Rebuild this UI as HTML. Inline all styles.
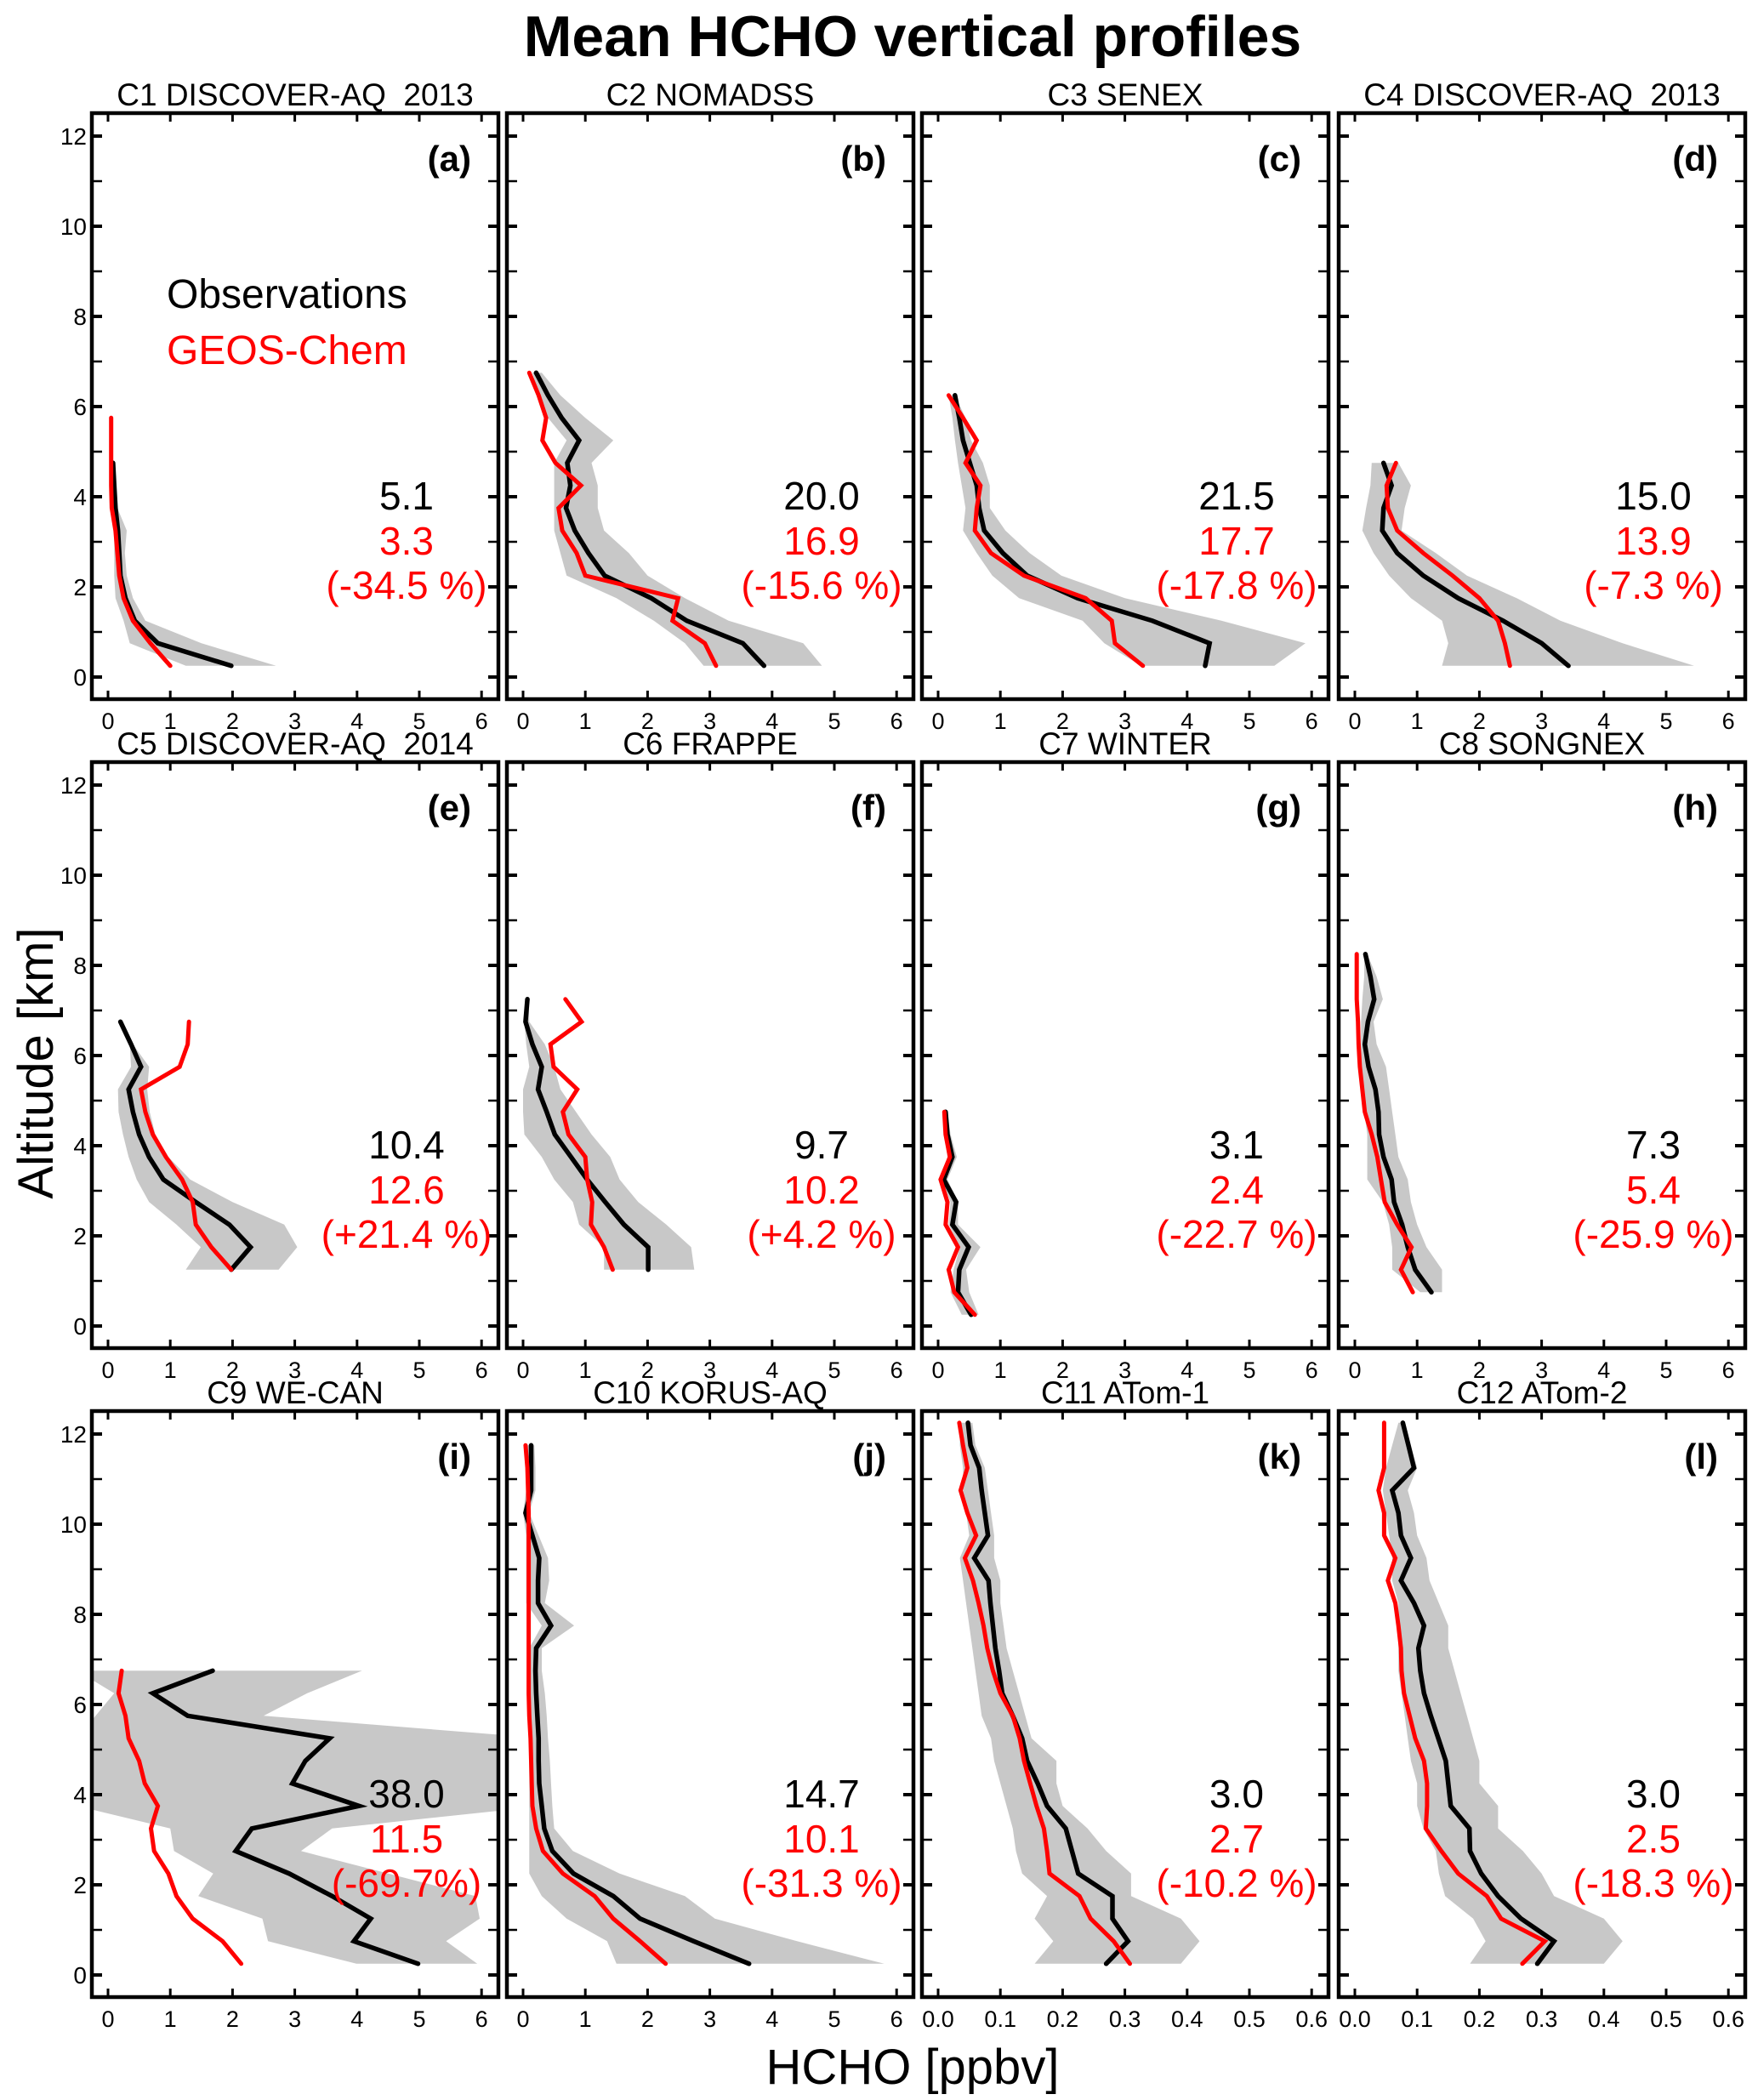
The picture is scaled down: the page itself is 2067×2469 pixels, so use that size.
<!DOCTYPE html>
<html><head><meta charset="utf-8"><title>Mean HCHO vertical profiles</title>
<style>
html,body{margin:0;padding:0;background:#fff;}
svg{display:block;}
text{font-family:"Liberation Sans Narrow","Liberation Sans",sans-serif;}
</style></head>
<body>
<svg id="fig" xmlns="http://www.w3.org/2000/svg" width="2067" height="2469" viewBox="0 0 2067 2469">
<text x="1073" y="66" text-anchor="middle" font-size="68" font-weight="bold" style="font-family:'Liberation Sans',sans-serif">Mean HCHO vertical profiles</text>
<text transform="translate(62,1250) rotate(-90)" text-anchor="middle" font-size="58">Altitude [km]</text>
<text x="1073" y="2450" text-anchor="middle" font-size="58">HCHO [ppbv]</text>
<g id="panels"></g>
</svg>
<script>
// ---- data ----
const titles = ["C1 DISCOVER-AQ  2013","C2 NOMADSS","C3 SENEX","C4 DISCOVER-AQ  2013","C5 DISCOVER-AQ  2014","C6 FRAPPE","C7 WINTER","C8 SONGNEX","C9 WE-CAN","C10 KORUS-AQ","C11 ATom-1","C12 ATom-2"];
const letters = ["(a)","(b)","(c)","(d)","(e)","(f)","(g)","(h)","(i)","(j)","(k)","(l)"];
const obsTotals = ["5.1","20.0","21.5","15.0","10.4","9.7","3.1","7.3","38.0","14.7","3.0","3.0"];
const modTotals = ["3.3","16.9","17.7","13.9","12.6","10.2","2.4","5.4","11.5","10.1","2.7","2.5"];
const biasText = ["(-34.5 %)","(-15.6 %)","(-17.8 %)","(-7.3 %)","(+21.4 %)","(+4.2 %)","(-22.7 %)","(-25.9 %)","(-69.7%)","(-31.3 %)","(-10.2 %)","(-18.3 %)"];
const yTicks = [0,1,2,3,4,5,6,7,8,9,10,11,12];
const yTickLabels = ["0","2","4","6","8","10","12"];
const xTicks = [0,1,2,3,4,5,6];
const xTickLabels = ["0","1","2","3","4","5","6"];
const xTickLabelsAtom = ["0.0","0.1","0.2","0.3","0.4","0.5","0.6"];

const altA_obs = [0.25,0.75,1.25,1.75,2.25,2.75,3.25,3.75,4.25,4.75];
const obsA = [1.98,0.8,0.43,0.28,0.2,0.18,0.16,0.12,0.1,0.08];
const loA = [1.25,0.35,0.25,0.12,0.1,0.1,0.1,0.08,0.06,0.05];
const hiA = [2.7,1.5,0.6,0.4,0.3,0.27,0.3,0.15,0.12,0.1];
const altA_mod = [0.25,0.75,1.25,1.75,2.25,2.75,3.25,3.75,4.25,4.75,5.25,5.75];
const modA = [1.0,0.68,0.4,0.25,0.18,0.15,0.12,0.06,0.05,0.05,0.05,0.05];

const altB = [0.25,0.75,1.25,1.75,2.25,2.75,3.25,3.75,4.25,4.75,5.25,5.75,6.25,6.75];
const obsB = [3.87,3.53,2.63,2.06,1.31,1.05,0.83,0.69,0.76,0.71,0.9,0.62,0.4,0.21];
const modB = [3.1,2.92,2.4,2.49,1.0,0.86,0.63,0.57,0.93,0.52,0.31,0.37,0.25,0.1];
const hiB = [4.8,4.5,3.3,2.6,2.0,1.7,1.3,1.2,1.2,1.1,1.45,1.0,0.6,0.3];
const loB = [2.9,2.6,2.1,1.5,0.7,0.6,0.5,0.5,0.5,0.5,0.7,0.4,0.25,0.15];

const altC = [0.25,0.75,1.25,1.75,2.25,2.75,3.25,3.75,4.25,4.75,5.25,5.75,6.25];
const obsC = [4.29,4.36,3.44,2.24,1.43,1.04,0.74,0.66,0.62,0.51,0.40,0.34,0.27];
const modC = [3.29,2.84,2.79,2.37,1.38,0.85,0.59,0.62,0.68,0.44,0.62,0.40,0.17];
const hiC = [5.4,5.9,4.55,3.0,1.98,1.47,1.08,0.83,0.83,0.72,0.53,0.44,0.27];
const loC = [3.26,2.67,2.32,1.3,0.87,0.62,0.4,0.44,0.38,0.32,0.27,0.23,0.17];

const altD = [0.25,0.75,1.25,1.75,2.25,2.75,3.25,3.75,4.25,4.75];
const obsD = [3.43,3.0,2.38,1.66,1.1,0.68,0.44,0.46,0.59,0.46];
const modD = [2.49,2.41,2.3,2.0,1.57,1.1,0.68,0.53,0.51,0.66];
const hiD = [5.45,4.3,3.3,2.6,1.8,1.3,0.75,0.8,0.9,0.7];
const loD = [1.4,1.5,1.4,0.9,0.55,0.3,0.12,0.18,0.25,0.27];

const altE = [1.25,1.75,2.25,2.75,3.25,3.75,4.25,4.75,5.25,5.75,6.25,6.75];
const obsE = [1.98,2.29,1.95,1.41,0.89,0.66,0.5,0.4,0.33,0.53,0.37,0.2];
const modE = [1.98,1.66,1.41,1.36,1.19,0.93,0.72,0.6,0.53,1.15,1.28,1.3];
const hiE = [2.74,3.04,2.83,2.0,1.32,0.97,0.76,0.67,0.63,0.66,0.4,0.22];
const loE = [1.25,1.49,1.1,0.66,0.46,0.33,0.24,0.17,0.16,0.37,0.35,0.18];

const altF = [1.25,1.75,2.25,2.75,3.25,3.75,4.25,4.75,5.25,5.75,6.25,6.75,7.25];
const obsF = [2.01,2.01,1.62,1.32,1.03,0.77,0.51,0.38,0.24,0.3,0.15,0.04,0.07];
const modF = [1.44,1.3,1.09,1.11,1.03,1.0,0.73,0.64,0.87,0.49,0.44,0.94,0.68];
const hiF = [2.75,2.7,2.3,1.85,1.55,1.4,1.1,0.85,0.6,0.5,0.35,0.1,0.09];
const loF = [1.3,1.3,0.9,0.8,0.5,0.3,0.02,0.0,0.0,0.1,0.05,0.02,0.05];

const altG = [0.25,0.75,1.25,1.75,2.25,2.75,3.25,3.75,4.25,4.75];
const obsG = [0.53,0.32,0.34,0.49,0.23,0.29,0.09,0.23,0.15,0.12];
const modG = [0.59,0.26,0.17,0.32,0.12,0.15,0.04,0.19,0.12,0.1];
const hiG = [0.65,0.5,0.45,0.68,0.32,0.32,0.15,0.3,0.2,0.15];
const loG = [0.38,0.2,0.25,0.35,0.17,0.2,0.05,0.15,0.1,0.1];

const altH = [0.75,1.25,1.75,2.25,2.75,3.25,3.75,4.25,4.75,5.25,5.75,6.25,6.75,7.25,7.75,8.25];
const obsH = [1.23,0.97,0.85,0.76,0.63,0.59,0.46,0.39,0.38,0.33,0.22,0.16,0.21,0.31,0.25,0.17];
const modH = [0.93,0.74,0.91,0.68,0.48,0.42,0.36,0.27,0.16,0.12,0.08,0.06,0.05,0.03,0.03,0.03];
const hiH = [1.4,1.4,1.15,1.0,0.9,0.85,0.7,0.65,0.6,0.55,0.5,0.35,0.3,0.45,0.35,0.2];
const loH = [1.05,0.6,0.6,0.55,0.45,0.2,0.2,0.2,0.15,0.15,0.1,0.1,0.1,0.12,0.15,0.15];

const altI = [0.25,0.75,1.25,1.75,2.25,2.75,3.25,3.75,4.25,4.75,5.25,5.75,6.25,6.75];
const obsI = [4.98,3.95,4.22,3.6,2.91,2.05,2.31,4.03,2.96,3.17,3.56,1.28,0.72,1.68];
const modI = [2.14,1.84,1.36,1.1,0.97,0.74,0.69,0.8,0.59,0.5,0.33,0.28,0.17,0.22];
const hiI = [5.93,5.43,5.97,5.9,4.5,3.1,3.6,7,7,7,7,2.5,3.2,4.08];
const loI = [3.99,2.57,2.48,1.45,1.69,1.06,1.0,-0.5,-0.5,-0.5,-0.5,-0.2,0.1,-0.5];

const altJ = [0.25,0.75,1.25,1.75,2.25,2.75,3.25,3.75,4.25,4.75,5.25,5.75,6.25,6.75,7.25,7.75,8.25,8.75,9.25,9.75,10.25,10.75,11.25,11.75];
const obsJ = [3.63,2.74,1.88,1.45,0.81,0.47,0.34,0.3,0.26,0.25,0.25,0.23,0.21,0.2,0.21,0.45,0.24,0.24,0.26,0.15,0.04,0.13,0.13,0.13];
const modJ = [2.29,1.88,1.45,1.15,0.64,0.32,0.21,0.15,0.14,0.13,0.12,0.1,0.09,0.09,0.09,0.09,0.09,0.09,0.09,0.09,0.09,0.08,0.07,0.04];
const hiJ = [5.8,4.4,3.08,2.6,1.55,0.8,0.5,0.47,0.45,0.43,0.4,0.38,0.35,0.3,0.3,0.82,0.35,0.42,0.4,0.25,0.1,0.2,0.2,0.18];
const loJ = [1.5,1.35,0.7,0.3,0.1,0.1,0.1,0.1,0.1,0.1,0.1,0.1,0.1,0.1,0.1,0.3,0.05,0.05,0.05,0.05,0.0,0.05,0.05,0.05];

const altK = [0.25,0.75,1.25,1.75,2.25,2.75,3.25,3.75,4.25,4.75,5.25,5.75,6.25,6.75,7.25,7.75,8.25,8.75,9.25,9.75,10.25,10.75,11.25,11.75,12.25];
const obsK = [0.27,0.305,0.28,0.28,0.225,0.215,0.205,0.175,0.16,0.143,0.135,0.12,0.103,0.098,0.092,0.088,0.084,0.081,0.058,0.08,0.075,0.07,0.066,0.052,0.048];
const modK = [0.308,0.282,0.245,0.227,0.179,0.175,0.17,0.158,0.148,0.138,0.131,0.12,0.1,0.088,0.079,0.073,0.065,0.056,0.043,0.061,0.047,0.036,0.047,0.04,0.034];
const hiK = [0.39,0.42,0.39,0.31,0.31,0.27,0.24,0.2,0.19,0.19,0.15,0.14,0.13,0.12,0.11,0.105,0.1,0.1,0.09,0.09,0.085,0.08,0.075,0.06,0.055];
const loK = [0.155,0.185,0.155,0.175,0.135,0.125,0.12,0.11,0.1,0.09,0.085,0.07,0.065,0.06,0.055,0.05,0.045,0.04,0.035,0.05,0.045,0.04,0.04,0.035,0.035];

const altL = [0.25,0.75,1.25,1.75,2.25,2.75,3.25,3.75,4.25,4.75,5.25,5.75,6.25,6.75,7.25,7.75,8.25,8.75,9.25,9.75,10.25,10.75,11.25,11.75,12.25];
const obsL = [0.293,0.32,0.267,0.23,0.203,0.185,0.184,0.154,0.15,0.146,0.134,0.122,0.111,0.105,0.102,0.111,0.095,0.074,0.09,0.074,0.07,0.06,0.095,0.086,0.077];
const modL = [0.269,0.305,0.235,0.212,0.166,0.139,0.114,0.116,0.116,0.111,0.097,0.088,0.079,0.075,0.074,0.07,0.065,0.053,0.065,0.047,0.047,0.038,0.047,0.047,0.047];
const hiL = [0.4,0.43,0.4,0.32,0.3,0.27,0.23,0.23,0.2,0.2,0.19,0.18,0.17,0.16,0.15,0.15,0.135,0.12,0.115,0.1,0.095,0.085,0.1,0.09,0.08];
const loL = [0.185,0.21,0.19,0.145,0.135,0.13,0.11,0.1,0.1,0.09,0.085,0.08,0.075,0.07,0.07,0.07,0.07,0.06,0.06,0.055,0.05,0.045,0.05,0.06,0.07];

const panelData = [
 {alt:altA_obs, obs:obsA, lo:loA, hi:hiA, malt:altA_mod, mod:modA, xmax:6},
 {alt:altB, obs:obsB, lo:loB, hi:hiB, malt:altB, mod:modB, xmax:6},
 {alt:altC, obs:obsC, lo:loC, hi:hiC, malt:altC, mod:modC, xmax:6},
 {alt:altD, obs:obsD, lo:loD, hi:hiD, malt:altD, mod:modD, xmax:6},
 {alt:altE, obs:obsE, lo:loE, hi:hiE, malt:altE, mod:modE, xmax:6},
 {alt:altF, obs:obsF, lo:loF, hi:hiF, malt:altF, mod:modF, xmax:6},
 {alt:altG, obs:obsG, lo:loG, hi:hiG, malt:altG, mod:modG, xmax:6},
 {alt:altH, obs:obsH, lo:loH, hi:hiH, malt:altH, mod:modH, xmax:6},
 {alt:altI, obs:obsI, lo:loI, hi:hiI, malt:altI, mod:modI, xmax:6},
 {alt:altJ, obs:obsJ, lo:loJ, hi:hiJ, malt:altJ, mod:modJ, xmax:6},
 {alt:altK, obs:obsK, lo:loK, hi:hiK, malt:altK, mod:modK, xmax:0.6},
 {alt:altL, obs:obsL, lo:loL, hi:hiL, malt:altL, mod:modL, xmax:0.6}
];

// ---- layout ----
const colLeft = [108,596,1084,1574];
const rowTop = [133,896,1659];
const PW = 478, PH = 689;
const X0OFF = 19, XUNIT = 73.2;
const Y0OFF = 663, YUNIT = 53.0;
const NS = "http://www.w3.org/2000/svg";
const root = document.getElementById('panels');

function mk(tag, attrs, parent){
  const e = document.createElementNS(NS, tag);
  for (const k in attrs) e.setAttribute(k, attrs[k]);
  parent.appendChild(e);
  return e;
}

panelData.forEach((p, i) => {
  const L = colLeft[i % 4], T = rowTop[Math.floor(i / 4)];
  const xs = v => L + X0OFF + v * (6 / p.xmax) * XUNIT;
  const ys = a => T + Y0OFF - a * YUNIT;
  const g = mk('g', {}, root);
  
  

  const cp = mk('clipPath', {id: 'clip' + i}, g);
  mk('rect', {x: L, y: T, width: PW, height: PH}, cp);
  const plot = mk('g', {'clip-path': 'url(#clip' + i + ')'}, g);
  
  

  let pts = [];
  p.alt.forEach((a, k) => pts.push(xs(p.hi[k]).toFixed(1) + ',' + ys(a).toFixed(1)));
  for (let k = p.alt.length - 1; k >= 0; k--) pts.push(xs(p.lo[k]).toFixed(1) + ',' + ys(p.alt[k]).toFixed(1));
  const shade = mk('polygon', {points: pts.join(' '), fill: '#c8c8c8', stroke: 'none'}, plot);
  
  

  const op = p.alt.map((a, k) => xs(p.obs[k]).toFixed(1) + ',' + ys(a).toFixed(1)).join(' ');
  const ol = mk('polyline', {points: op, fill: 'none', stroke: '#000', 'stroke-width': 5.5, 'stroke-linejoin': 'miter', 'stroke-linecap': 'round'}, plot);
  
  

  const mp = p.malt.map((a, k) => xs(p.mod[k]).toFixed(1) + ',' + ys(a).toFixed(1)).join(' ');
  const ml = mk('polyline', {points: mp, fill: 'none', stroke: '#ff0000', 'stroke-width': 5, 'stroke-linejoin': 'miter', 'stroke-linecap': 'round'}, plot);
  
  

  const tk = mk('g', {stroke: '#000'}, g);
  
  
  yTicks.forEach(v => {
    const y = ys(v), sw = (v % 2 === 0) ? 4 : 2.5;
    mk('line', {x1: L, x2: L + 12, y1: y, y2: y, 'stroke-width': sw}, tk);
    mk('line', {x1: L + PW - 12, x2: L + PW, y1: y, y2: y, 'stroke-width': sw}, tk);
  });
  xTicks.forEach(v => {
    const x = xs(v * p.xmax / 6);
    mk('line', {x1: x, x2: x, y1: T + PH, y2: T + PH - 10, 'stroke-width': 3}, tk);
    mk('line', {x1: x, x2: x, y1: T, y2: T + 10, 'stroke-width': 3}, tk);
  });

  const fr = mk('rect', {x: L, y: T, width: PW, height: PH, fill: 'none', stroke: '#000', 'stroke-width': 4.5}, g);
  
  

  const labs = p.xmax < 1 ? xTickLabelsAtom : xTickLabels;
  labs.forEach((s, k) => {
    const t = mk('text', {x: xs(xTicks[k] * p.xmax / 6), y: T + PH + 35, 'text-anchor': 'middle', 'font-size': 27}, g);
    
    
    t.textContent = s;
  });
  if (i % 4 === 0) {
    yTickLabels.forEach((s, k) => {
      const t = mk('text', {x: L - 6, y: ys(k * 2) + 10, 'text-anchor': 'end', 'font-size': 28}, g);
      
      
      t.textContent = s;
    });
  }
  const tt = mk('text', {x: L + PW / 2, y: T - 9, 'text-anchor': 'middle', 'font-size': 37, style: 'white-space:pre'}, g);
  
  
  tt.textContent = titles[i];
  const lt = mk('text', {x: L + PW - 32, y: T + 68, 'text-anchor': 'end', 'font-size': 42, 'font-weight': 'bold', style: "font-family:'Liberation Sans',sans-serif"}, g);
  
  
  lt.textContent = letters[i];
  const cx = L + 370;
  const s1 = mk('text', {x: cx, y: T + 466, 'text-anchor': 'middle', 'font-size': 46, fill: '#000'}, g);
  
  
  s1.textContent = obsTotals[i];
  const s2 = mk('text', {x: cx, y: T + 519, 'text-anchor': 'middle', 'font-size': 46, fill: '#ff0000'}, g);
  
  
  s2.textContent = modTotals[i];
  const s3 = mk('text', {x: cx, y: T + 571, 'text-anchor': 'middle', 'font-size': 46, fill: '#ff0000'}, g);
  
  
  s3.textContent = biasText[i];
});

const lg = mk('g', {}, root);


const l1 = mk('text', {x: 196, y: 362, 'font-size': 48, fill: '#000'}, lg);


l1.textContent = 'Observations';
const l2 = mk('text', {x: 196, y: 428, 'font-size': 48, fill: '#ff0000'}, lg);


l2.textContent = 'GEOS-Chem';
</script>
</body></html>
